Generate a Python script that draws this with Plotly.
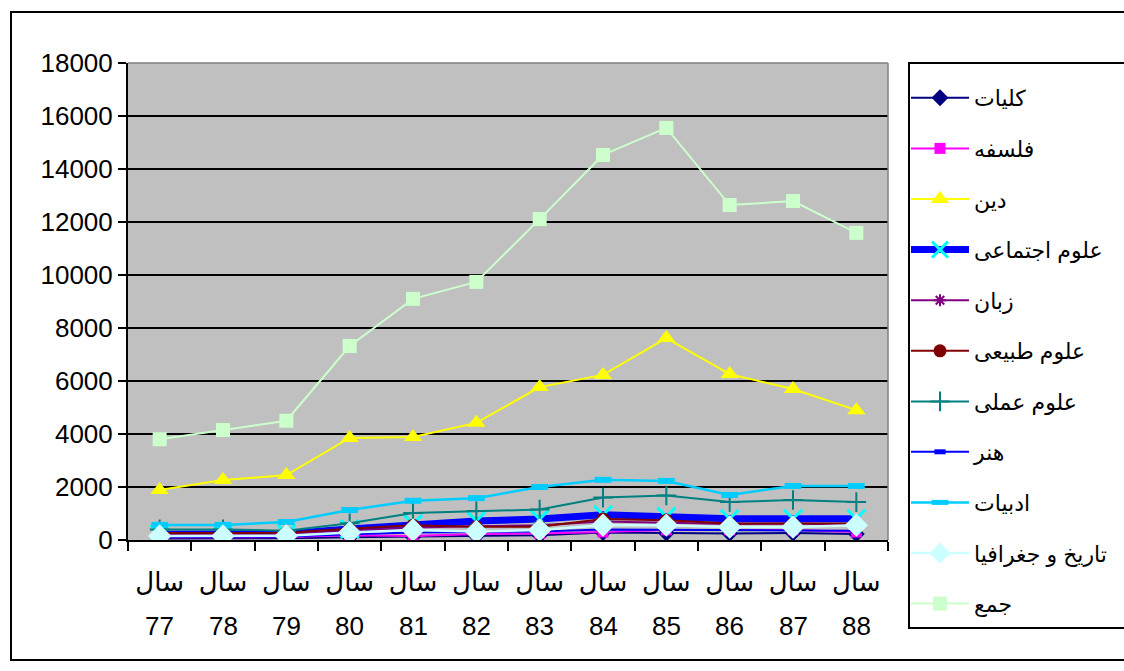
import plotly.graph_objects as go

years = ['77', '78', '79', '80', '81', '82', '83', '84', '85', '86', '87', '88']
year_word = 'سال'
y_ticks = [0, 2000, 4000, 6000, 8000, 10000, 12000, 14000, 16000, 18000]

kolliyat = [60, 60, 70, 100, 120, 150, 180, 280, 260, 250, 260, 230]
falsafe = [100, 100, 110, 180, 150, 230, 250, 300, 380, 380, 380, 300]
din = [1890, 2260, 2450, 3850, 3890, 4420, 5770, 6230, 7620, 6260, 5700, 4900]
oloom_ejtemaei = [220, 220, 240, 420, 600, 720, 790, 950, 880, 800, 800, 800]
zaban = [200, 200, 220, 350, 470, 520, 560, 700, 650, 600, 620, 580]
oloom_tabiei = [260, 260, 270, 420, 560, 500, 500, 790, 750, 620, 620, 620]
oloom_amali = [400, 400, 350, 630, 1020, 1090, 1150, 1600, 1680, 1430, 1510, 1430]
honar = [120, 120, 130, 220, 280, 300, 320, 400, 380, 360, 360, 350]
adabiyat = [570, 570, 680, 1130, 1480, 1580, 2000, 2270, 2230, 1700, 2040, 2040]
tarikh = [150, 150, 160, 280, 380, 320, 380, 560, 560, 490, 490, 560]
jam = [3800, 4150, 4500, 7320, 9100, 9740, 12110, 14530, 15550, 12640, 12790, 11590]

series = [
    ('کلیات', kolliyat, '#000080', 2, dict(symbol='diamond', size=13, color='#000080')),
    ('فلسفه', falsafe, '#FF00FF', 2, dict(symbol='square', size=11, color='#FF00FF')),
    ('دین', din, '#FFFF00', 2, dict(symbol='triangle-up', size=16, color='#FFFF00')),
    ('علوم اجتماعی', oloom_ejtemaei, '#0000FF', 7,
     dict(symbol='x-thin-open', size=18, color='#00FFFF', line=dict(color='#00FFFF', width=3))),
    ('زبان', zaban, '#800080', 2,
     dict(symbol='asterisk-open', size=10, color='#800080', line=dict(color='#800080', width=2))),
    ('علوم طبیعی', oloom_tabiei, '#800000', 2, dict(symbol='circle', size=13, color='#800000')),
    ('علوم عملی', oloom_amali, '#008080', 2,
     dict(symbol='cross-thin-open', size=14, color='#008080', line=dict(color='#008080', width=2))),
    ('هنر', honar, '#0000FF', 2,
     dict(symbol='line-ew', size=8, color='#0000FF', line=dict(color='#0000FF', width=5))),
    ('ادبیات', adabiyat, '#00CCFF', 2.5,
     dict(symbol='line-ew', size=12, color='#00CCFF', line=dict(color='#00CCFF', width=6))),
    ('تاریخ و جغرافیا', tarikh, '#CCFFFF', 2.5, dict(symbol='diamond', size=18, color='#CCFFFF')),
    ('جمع', jam, '#CCFFCC', 2, dict(symbol='square', size=14, color='#CCFFCC')),
]

fig = go.Figure()
for i, (name, vals, col, w, mk) in enumerate(series):
    fig.add_trace(go.Scatter(
        x=years, y=vals, name=name, mode='lines+markers',
        line=dict(color=col, width=w), marker=mk, legendgroup='g%d' % i,
        legend='legend' if i < 7 else 'legend2',
    ))

# plot area in pixels: x 128..888, y 63..540
L, R, T, B = 128, 888, 63, 540
W, H = R - L, B - T
FW, FH = 1124, 671

def px_x(p):
    return (p - L) / W

def px_y(p):
    return (B - p) / H

annotations = []
for i, yr in enumerate(years):
    annotations.append(dict(x=i, y=px_y(626), xref='x', yref='paper', text=yr,
                            showarrow=False, yanchor='middle', xanchor='center',
                            font=dict(size=26, color='black', family='Liberation Sans, Arial')))

legend_common = dict(
    xanchor='left', yanchor='top',
    bgcolor='rgba(0,0,0,0)', borderwidth=0,
    font=dict(size=22, color='black'),
    traceorder='grouped', tracegroupgap=19, itemwidth=58,
)

fig.update_layout(
    width=FW, height=FH,
    margin=dict(l=L, r=FW - R, t=T, b=FH - B, autoexpand=False),
    paper_bgcolor='white',
    plot_bgcolor='#C0C0C0',
    font=dict(family='Liberation Sans, Arial, DejaVu Sans', color='black'),
    showlegend=True,
    legend=dict(x=px_x(906), y=px_y(77), **legend_common),
    legend2=dict(x=px_x(906), y=px_y(431), **legend_common),
    xaxis=dict(
        type='category', range=[-0.5, 11.5],
        tickmode='array', tickvals=years, ticktext=[year_word] * len(years),
        tickson='boundaries', ticks='outside', ticklen=9, tickcolor='black', tickwidth=2,
        showline=True, linecolor='black', linewidth=2, showgrid=False,
        tickfont=dict(size=26, color='black'), ticklabelstandoff=18,
    ),
    yaxis=dict(
        range=[0, 18000], tickmode='array', tickvals=y_ticks,
        ticktext=[str(v) for v in y_ticks],
        ticks='outside', ticklen=8, tickcolor='black', tickwidth=2,
        showline=True, linecolor='black', linewidth=2,
        showgrid=True, gridcolor='black', gridwidth=2, zeroline=False,
        tickfont=dict(size=26, color='black'),
    ),
    annotations=annotations,
    shapes=[
        dict(type='rect', xref='paper', yref='paper',
             x0=px_x(11), x1=px_x(1140), y0=px_y(660), y1=px_y(12),
             line=dict(color='black', width=2), fillcolor='rgba(0,0,0,0)', layer='below'),
        dict(type='rect', xref='paper', yref='paper',
             x0=px_x(909), x1=px_x(1140), y0=px_y(628), y1=px_y(63),
             line=dict(color='black', width=2), fillcolor='white', layer='below'),
        dict(type='line', xref='paper', yref='paper', x0=0, x1=1, y0=1, y1=1,
             line=dict(color='#808080', width=1.5)),
        dict(type='line', xref='paper', yref='paper', x0=1, x1=1, y0=0, y1=1,
             line=dict(color='#808080', width=1.5)),
    ],
)

fig.write_html('out.html')
